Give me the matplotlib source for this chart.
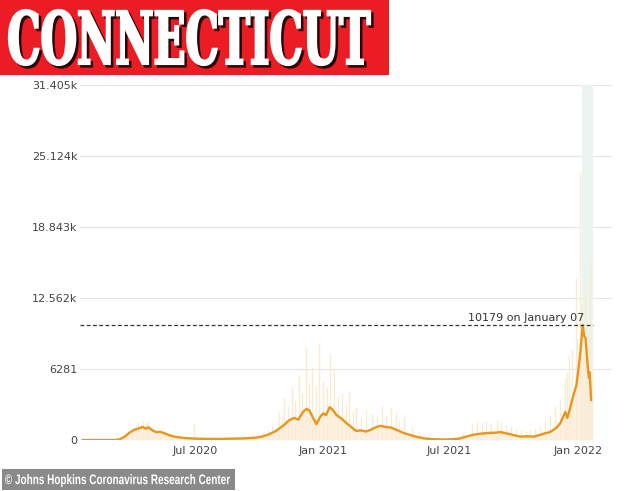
import numpy as np
import matplotlib
matplotlib.use("Agg")
import matplotlib.pyplot as plt
from matplotlib.textpath import TextPath
from matplotlib.font_manager import FontProperties
from matplotlib.patches import PathPatch, Rectangle
from matplotlib.transforms import Affine2D

W, H = 634, 491

# 7-day average of new cases
line_dates = ["2020-01-22", "2020-03-08", "2020-03-15", "2020-03-22", "2020-03-29",
              "2020-04-05", "2020-04-12", "2020-04-17", "2020-04-21", "2020-04-25",
              "2020-05-01", "2020-05-06", "2020-05-12", "2020-05-18", "2020-05-24",
              "2020-06-01", "2020-06-15", "2020-07-01", "2020-07-20", "2020-08-10",
              "2020-08-25", "2020-09-10", "2020-09-25", "2020-10-05", "2020-10-15",
              "2020-10-25", "2020-11-05", "2020-11-13", "2020-11-20", "2020-11-26",
              "2020-12-03", "2020-12-08", "2020-12-12", "2020-12-17", "2020-12-22",
              "2020-12-28", "2021-01-01", "2021-01-05", "2021-01-10", "2021-01-14",
              "2021-01-20", "2021-01-27", "2021-02-03", "2021-02-10", "2021-02-17",
              "2021-02-24", "2021-03-03", "2021-03-10", "2021-03-18", "2021-03-24",
              "2021-03-31", "2021-04-08", "2021-04-16", "2021-04-25", "2021-05-05",
              "2021-05-15", "2021-05-25", "2021-06-05", "2021-06-20", "2021-07-05",
              "2021-07-15", "2021-07-25", "2021-08-05", "2021-08-15", "2021-08-25",
              "2021-09-05", "2021-09-12", "2021-09-20", "2021-09-30", "2021-10-10",
              "2021-10-20", "2021-10-30", "2021-11-07", "2021-11-15", "2021-11-22",
              "2021-12-01", "2021-12-07", "2021-12-14", "2021-12-17", "2021-12-21",
              "2021-12-25", "2021-12-30", "2022-01-04", "2022-01-08", "2022-01-10",
              "2022-01-12", "2022-01-16", "2022-01-17", "2022-01-18", "2022-01-20"]
line_vals = [0, 0, 60, 300, 650,
             900, 1050, 1150, 1000, 1120,
             850, 700, 720, 600, 450,
             300, 180, 120, 90, 100,
             120, 140, 200, 300, 500,
             800, 1300, 1750, 1950, 1800,
             2500, 2750, 2600, 2000, 1400,
             2100, 2350, 2200, 2900, 2700,
             2200, 1900, 1500, 1150, 800,
             850, 750, 900, 1150, 1250,
             1150, 1100, 900, 650, 450,
             280, 150, 80, 40, 60,
             120, 300, 480, 560, 620,
             650, 700, 600, 450, 300,
             330, 300, 440, 600, 700,
             1060, 1500, 2480, 1950, 2830,
             3800, 4870, 7340, 10179, 9200,
             9020, 5930, 5480, 6000, 3540]

# daily reported cases (spikes)
bar_dates = ["2020-03-25", "2020-04-01", "2020-04-07", "2020-04-10", "2020-04-14",
             "2020-04-17", "2020-04-21", "2020-04-24", "2020-04-28", "2020-05-01",
             "2020-05-06", "2020-05-12", "2020-05-19", "2020-05-26", "2020-06-02",
             "2020-06-16", "2020-06-30", "2020-08-12", "2020-08-25", "2020-09-08",
             "2020-09-22", "2020-10-06", "2020-10-13", "2020-10-20", "2020-10-29",
             "2020-11-03", "2020-11-06", "2020-11-12", "2020-11-17", "2020-11-22",
             "2020-11-27", "2020-12-02", "2020-12-07", "2020-12-11", "2020-12-16",
             "2020-12-21", "2020-12-26", "2020-12-31", "2021-01-06", "2021-01-11",
             "2021-01-16", "2021-01-22", "2021-01-28", "2021-02-02", "2021-02-07",
             "2021-02-12", "2021-02-17", "2021-02-24", "2021-03-03", "2021-03-12",
             "2021-03-19", "2021-03-26", "2021-04-01", "2021-04-08", "2021-04-15",
             "2021-04-20", "2021-04-26", "2021-05-08", "2021-05-18", "2021-06-01",
             "2021-06-15", "2021-07-06", "2021-07-20", "2021-08-02", "2021-08-09",
             "2021-08-16", "2021-08-23", "2021-08-30", "2021-09-07", "2021-09-13",
             "2021-09-20", "2021-09-27", "2021-10-04", "2021-10-12", "2021-10-18",
             "2021-10-25", "2021-11-01", "2021-11-08", "2021-11-15", "2021-11-22",
             "2021-11-29", "2021-12-06", "2021-12-13", "2021-12-17", "2021-12-20",
             "2021-12-23", "2021-12-29", "2021-12-31", "2022-01-04", "2022-01-06",
             "2022-01-11", "2022-01-15", "2022-01-19", "2022-01-21"]
bar_vals = [600, 1100, 1300, 1600, 1400,
            1800, 1500, 1700, 1200, 1100,
            900, 800, 700, 500, 300,
            200, 1400, 300, 350, 400,
            500, 700, 900, 1300, 2500,
            2000, 3800, 3000, 4700, 3500,
            5750, 4200, 8200, 5000, 6460,
            4800, 8600, 5200, 4700, 7600,
            6400, 3900, 4160, 3000, 4250,
            2600, 2900, 2000, 2650, 2390,
            2100, 3100, 2200, 2900, 2500,
            1700, 2030, 1150, 700, 400,
            250, 200, 600, 1400, 1600,
            1500, 1700, 1500, 1800, 1600,
            1300, 1200, 1000, 900, 800,
            900, 1000, 1200, 1700, 2200,
            3000, 3500, 5500, 6000, 7500,
            8000, 14300, 9000, 23700, 12000,
            13000, 9000, 16100, 6000]

# highlighted days (drawn capped at the axis top)
green_dates = ["2022-01-08", "2022-01-09", "2022-01-10", "2022-01-11", "2022-01-12",
               "2022-01-13", "2022-01-14", "2022-01-15", "2022-01-16", "2022-01-17",
               "2022-01-18", "2022-01-19", "2022-01-20", "2022-01-21", "2022-01-22"]
green_vals = [31405] * len(green_dates)

yticks = [0, 6281, 12562, 18843, 25124, 31405]
ytick_labels = ["0", "6281", "12.562k", "18.843k", "25.124k", "31.405k"]
xticks = ["2020-07-01", "2021-01-01", "2021-07-01", "2022-01-01"]
xtick_labels = ["Jul 2020", "Jan 2021", "Jul 2021", "Jan 2022"]

peak_val = 10179
peak_label = "10179 on January 07"

fig = plt.figure(figsize=(W / 100, H / 100), dpi=100)
fig.patch.set_facecolor("white")


def squeeze(txt, x0, y0, x1, y1, color, family, dx=0, dy=0, lw=0):
    # draw text stretched into a pixel box (image coords, top-left origin)
    tp = TextPath((0, 0), txt, size=10, prop=FontProperties(family=family, weight="bold"))
    ext = tp.get_extents()
    tr = (Affine2D().translate(-ext.x0, -ext.y0)
          .scale((x1 - x0) / ext.width, (y1 - y0) / ext.height)
          .translate(x0 + dx, H - y1 + dy).scale(1 / W, 1 / H))
    fig.add_artist(PathPatch(tr.transform_path(tp), fc=color,
                             ec=color if lw else "none", lw=lw,
                             transform=fig.transFigure))


# title banner
fig.add_artist(Rectangle((0, (H - 75) / H), 389 / W, 75 / H, fc="#ec1c24", ec="none",
                         transform=fig.transFigure))
squeeze("CONNECTICUT", 9, 10, 370, 65, "#2a0606", "DejaVu Serif", dx=2.5, dy=-2.5, lw=1.6)
squeeze("CONNECTICUT", 9, 10, 370, 65, "white", "DejaVu Serif", lw=1.6)

# source footer
fig.add_artist(Rectangle((2 / W, 1 / H), 233 / W, 21 / H, fc="#8a8a8a", ec="none",
                         transform=fig.transFigure))
squeeze("\u00a9 Johns Hopkins Coronavirus Research Center", 5, 474, 230, 487,
        "white", "Liberation Sans")

ax = fig.add_axes([80 / W, 51 / H, 532 / W, 355 / H])

ld = np.array(line_dates, dtype="datetime64[D]")
lv = np.array(line_vals)

ax.vlines(np.array(green_dates, dtype="datetime64[D]"), 0, green_vals,
          color="#eaf5ef", lw=1.4, zorder=1)
ax.vlines(np.array(bar_dates, dtype="datetime64[D]"), 0, bar_vals,
          color="#f9ebd2", lw=1.0, zorder=2)
ax.fill_between(ld, 0, lv, color="#fcedd9", alpha=0.8, lw=0, zorder=2)
ax.plot(ld, lv, color="#e8961c", lw=1.7, zorder=4)

x_left = np.datetime64("2020-01-18")
x_right = np.datetime64("2022-02-19")
ax.hlines(peak_val, x_left, np.datetime64("2022-01-23"), color="#333333", lw=0.9,
          linestyles=(0, (3, 2)), zorder=5)
ax.text(np.datetime64("2022-01-10"), peak_val + 200, peak_label, ha="right", va="bottom",
        fontsize=8, color="#333333", zorder=6)

ax.set_xlim(x_left, x_right)
ax.set_ylim(0, 31405)
ax.set_yticks(yticks)
ax.set_yticklabels(ytick_labels)
ax.set_xticks(np.array(xticks, dtype="datetime64[D]"))
ax.set_xticklabels(xtick_labels)
ax.tick_params(axis="both", length=0, labelsize=8, labelcolor="#444444")
ax.tick_params(axis="y", pad=2)
ax.tick_params(axis="x", pad=4)
ax.grid(axis="y", color="#e6e6e6", lw=0.8, zorder=0)
ax.set_axisbelow(True)
for s in ax.spines.values():
    s.set_visible(False)

fig.savefig("out.png", dpi=100, facecolor="white")
